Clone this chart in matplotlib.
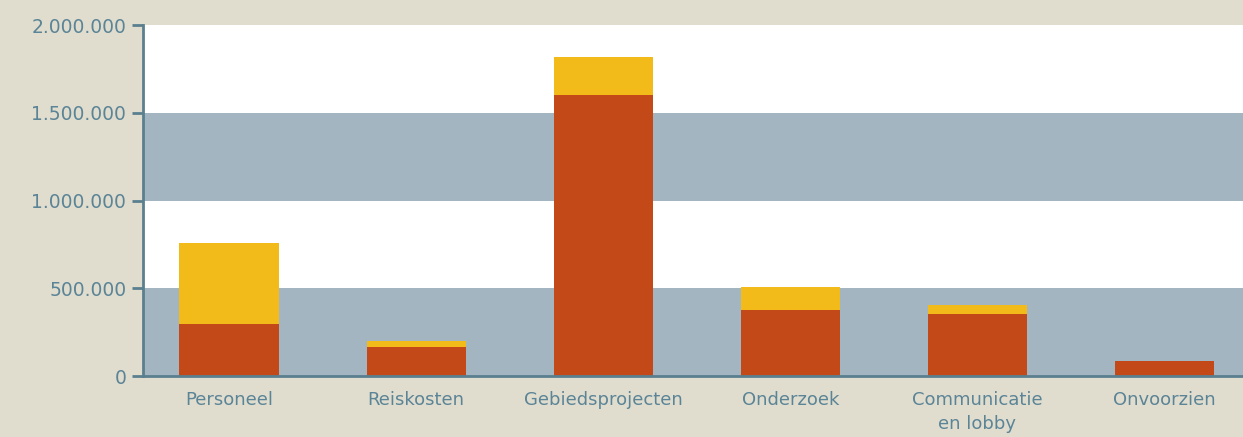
import matplotlib
matplotlib.use('Agg')
import matplotlib.pyplot as plt
import numpy as np

categories = ['Personeel', 'Reiskosten', 'Gebiedsprojecten', 'Onderzoek', 'Communicatie\nen lobby', 'Onvoorzien']
basis = [298000, 165000, 1600000, 375000, 353000, 85000]
extra = [462000, 35000, 218000, 132000, 52000, 0]
yticks = [0, 500000, 1000000, 1500000, 2000000]
ylabels = ['0', '500.000', '1.000.000', '1.500.000', '2.000.000']

bg = '#e0ddcf'
band = '#a2b5c0'
rood = '#c44918'
geel = '#f2bb1a'
tekst = '#5b8496'
as_kleur = '#5a7f8f'

plt.rcParams['font.family'] = ['DejaVu Sans']

fig = plt.figure(figsize=(12.43, 4.37), dpi=100, facecolor=bg)
ax = fig.add_axes([143/1243, 61/437, 1 - 143/1243, 351/437])
ax.set_facecolor('white')

# horizontale banden
for lo, hi in [(0, 500000), (1000000, 1500000)]:
    ax.axhspan(lo, hi, color=band, lw=0, zorder=0)

x = np.arange(len(categories))
ax.bar(x, basis, width=0.53, color=rood, zorder=2)
ax.bar(x, extra, width=0.53, bottom=basis, color=geel, zorder=2)

ax.set_xlim(-0.46, 5.42)
ax.set_ylim(0, 2000000)
ax.set_yticks(yticks)
ax.set_yticklabels(ylabels, fontsize=13.5)
ax.set_xticks(x)
ax.set_xticklabels(categories, linespacing=1.4)

for s in ['top', 'right']:
    ax.spines[s].set_visible(False)
for s in ['left', 'bottom']:
    ax.spines[s].set_color(as_kleur)
    ax.spines[s].set_linewidth(2)
    ax.spines[s].set_zorder(3)

ax.tick_params(axis='y', colors=as_kleur, labelcolor=tekst, length=8, width=2, pad=4)
ax.tick_params(axis='x', length=0, labelcolor=tekst, labelsize=13, pad=11)

fig.savefig('out.png', dpi=100, facecolor=bg)
